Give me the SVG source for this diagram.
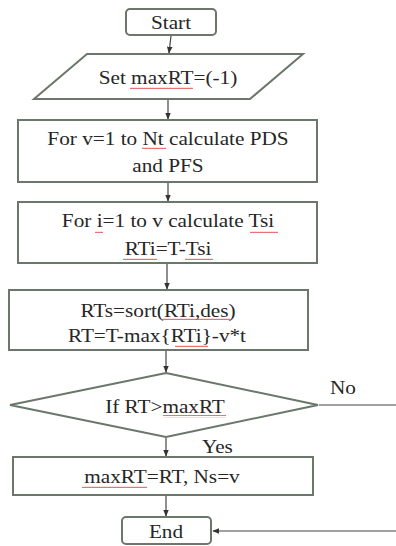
<svg xmlns="http://www.w3.org/2000/svg" width="396" height="546" viewBox="0 0 396 546">
<style>
.shape{fill:#fff;stroke:#6a776a;stroke-width:2}
.t{font-family:"Liberation Serif",serif;font-size:18px;fill:#262626;text-anchor:middle}
.lab{font-family:"Liberation Serif",serif;font-size:18px;fill:#262626}
.c{stroke:#444;stroke-width:1.2;fill:none}
.sq{fill:url(#wave)}
</style>
<defs>
<marker id="ah" viewBox="0 0 10 10" refX="9" refY="5" markerWidth="7" markerHeight="7" orient="auto" markerUnits="userSpaceOnUse">
<path d="M0,1 L10,5 L0,9 Z" fill="#333"/>
</marker>
<pattern id="wave" width="4" height="3" patternUnits="userSpaceOnUse">
<path d="M0,2 L1,0.8 L2,2 L3,0.8 L4,2" stroke="#e04040" stroke-width="0.8" fill="none"/>
</pattern>
</defs>
<rect width="396" height="546" fill="#fff"/>
<g id="connectors">
<line class="c" x1="171" y1="36" x2="169" y2="53" marker-end="url(#ah)"/>
<line class="c" x1="168" y1="100" x2="168" y2="119" marker-end="url(#ah)"/>
<line class="c" x1="168" y1="183" x2="168" y2="201" marker-end="url(#ah)"/>
<line class="c" x1="167" y1="264" x2="167" y2="289" marker-end="url(#ah)"/>
<line class="c" x1="166" y1="351" x2="166" y2="372" marker-end="url(#ah)"/>
<line class="c" x1="166" y1="438" x2="166" y2="456" marker-end="url(#ah)"/>
<line class="c" x1="166" y1="496" x2="166" y2="516" marker-end="url(#ah)"/>
<line class="c" x1="319" y1="405" x2="396" y2="405"/>
<line class="c" x1="396" y1="531" x2="213" y2="531" marker-end="url(#ah)"/>
<text class="lab" transform="matrix(1.18,0,0,1,330,0)" x="0" y="394">No</text>
<text class="lab" transform="matrix(1.18,0,0,1,202,0)" x="0" y="453">Yes</text>
</g>
<g id="start">
<rect class="shape" x="126" y="9" width="90" height="26" rx="4"/>
<text class="t" transform="matrix(1.18,0,0,1,171,0)" x="0" y="29">Start</text>
</g>
<g id="set">
<polygon class="shape" points="87,54 303,54 250,99 34,99"/>
<text class="t" transform="matrix(1.18,0,0,1,168,0)" x="0" y="84">Set maxRT=(-1)</text>
<rect class="sq" x="130" y="86" width="63" height="3"/>
</g>
<g id="forv">
<rect class="shape" x="18" y="120" width="299" height="62"/>
<text class="t" transform="matrix(1.18,0,0,1,168,0)" x="0" y="145">For v=1 to Nt calculate PDS</text>
<text class="t" transform="matrix(1.18,0,0,1,168,0)" x="0" y="172">and PFS</text>
<rect class="sq" x="142" y="147" width="24" height="3"/>
</g>
<g id="fori">
<rect class="shape" x="18" y="202" width="299" height="61"/>
<text class="t" transform="matrix(1.18,0,0,1,168,0)" x="0" y="227">For i=1 to v calculate Tsi</text>
<text class="t" transform="matrix(1.18,0,0,1,168,0)" x="0" y="255">RTi=T-Tsi</text>
<rect class="sq" x="95" y="230" width="8" height="3"/>
<rect class="sq" x="250" y="230" width="28" height="3"/>
<rect class="sq" x="123" y="258" width="34" height="3"/>
<rect class="sq" x="185" y="258" width="28" height="3"/>
</g>
<g id="sort">
<rect class="shape" x="9" y="290" width="299" height="60"/>
<text class="t" transform="matrix(1.18,0,0,1,158,0)" x="0" y="317">RTs=sort(RTi,des)</text>
<text class="t" transform="matrix(1.18,0,0,1,157,0)" x="0" y="342">RT=T-max{RTi}-v*t</text>
<rect class="sq" x="162" y="318" width="68" height="3"/>
<rect class="sq" x="175" y="344" width="33" height="3"/>
</g>
<g id="decision">
<polygon class="shape" points="166,373 318,405 166,437 10,405"/>
<text class="t" transform="matrix(1.18,0,0,1,165,0)" x="0" y="413">If RT&gt;maxRT</text>
<rect class="sq" x="163" y="415" width="63" height="3"/>
</g>
<g id="update">
<rect class="shape" x="13" y="457" width="300" height="38"/>
<text class="t" transform="matrix(1.18,0,0,1,162,0)" x="0" y="483">maxRT=RT, Ns=v</text>
<rect class="sq" x="82" y="485" width="65" height="3"/>
</g>
<g id="end">
<rect class="shape" x="122" y="517" width="89" height="27" rx="4"/>
<text class="t" transform="matrix(1.18,0,0,1,166,0)" x="0" y="538">End</text>
</g>
</svg>
